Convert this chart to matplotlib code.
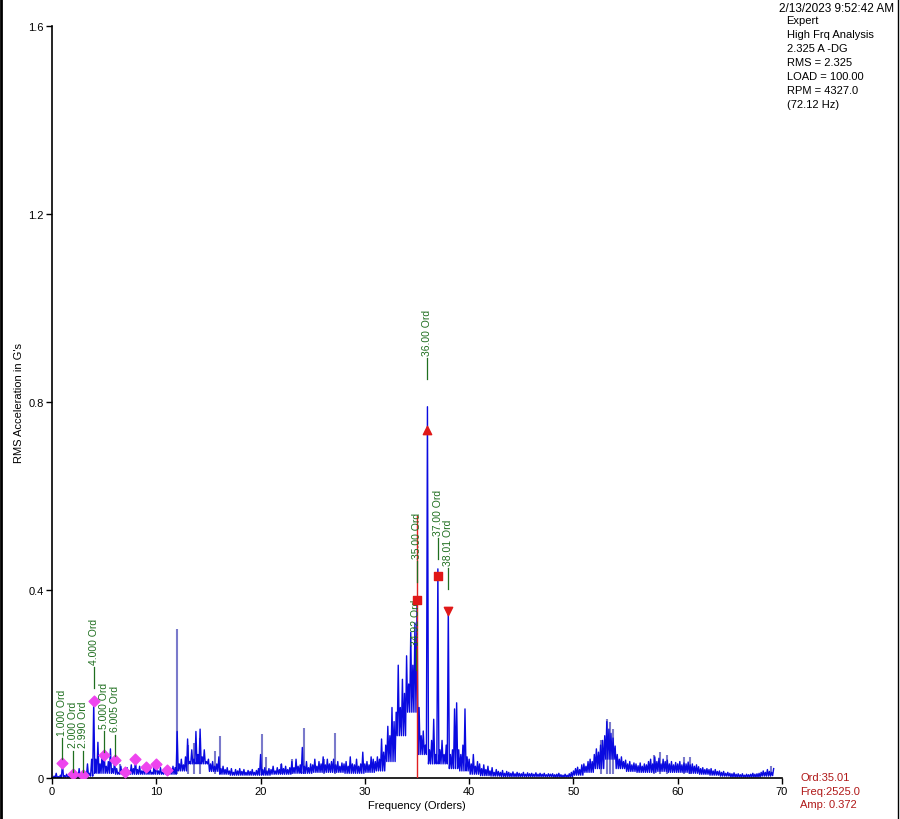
import numpy as np
import matplotlib.pyplot as plt
from matplotlib.lines import Line2D

plt.rcParams['font.family'] = ['Liberation Sans', 'DejaVu Sans']

# spectrum peak amplitudes (G's rms), one row per order, bins every 0.2 order
ORDER_STEP = 0.2
AMPS = [
  0.000, 0.004, 0.010, 0.003, 0.006,
  0.031, 0.005, 0.008, 0.003, 0.006,
  0.011, 0.004, 0.006, 0.020, 0.008,
  0.008, 0.012, 0.030, 0.010, 0.040,
  0.164, 0.040, 0.076, 0.030, 0.050,
  0.055, 0.025, 0.035, 0.062, 0.020,
  0.038, 0.020, 0.012, 0.025, 0.015,
  0.013, 0.022, 0.015, 0.028, 0.020,
  0.040, 0.018, 0.025, 0.015, 0.020,
  0.024, 0.014, 0.020, 0.012, 0.028,
  0.030, 0.015, 0.022, 0.012, 0.018,
  0.018, 0.020, 0.015, 0.025, 0.022,
  0.099, 0.030, 0.040, 0.028, 0.045,
  0.083, 0.035, 0.060, 0.040, 0.099,
  0.050, 0.104, 0.045, 0.060, 0.035,
  0.040, 0.030, 0.035, 0.025, 0.030,
  0.045, 0.020, 0.025, 0.018, 0.022,
  0.015, 0.020, 0.012, 0.018, 0.015,
  0.020, 0.014, 0.018, 0.012, 0.016,
  0.014, 0.018, 0.012, 0.016, 0.020,
  0.050, 0.018, 0.022, 0.015, 0.020,
  0.018, 0.025, 0.015, 0.022, 0.018,
  0.030, 0.020, 0.025, 0.018, 0.022,
  0.035, 0.022, 0.040, 0.025, 0.028,
  0.065, 0.025, 0.035, 0.022, 0.030,
  0.028, 0.040, 0.025, 0.035, 0.030,
  0.045, 0.028, 0.040, 0.030, 0.035,
  0.040, 0.028, 0.035, 0.025, 0.032,
  0.030, 0.035, 0.025, 0.045, 0.030,
  0.028, 0.040, 0.025, 0.030, 0.055,
  0.030, 0.035, 0.028, 0.045, 0.040,
  0.035, 0.045, 0.040, 0.083, 0.055,
  0.070, 0.110, 0.090, 0.150, 0.120,
  0.140, 0.240, 0.150, 0.210, 0.180,
  0.260, 0.200, 0.310, 0.240, 0.330,
  0.372, 0.150, 0.090, 0.100, 0.070,
  0.790, 0.060, 0.080, 0.125, 0.050,
  0.445, 0.060, 0.080, 0.050, 0.070,
  0.360, 0.050, 0.060, 0.147, 0.160,
  0.060, 0.050, 0.070, 0.147, 0.045,
  0.040, 0.030, 0.050, 0.025, 0.035,
  0.030, 0.020, 0.028, 0.018, 0.025,
  0.015, 0.022, 0.012, 0.018, 0.014,
  0.012, 0.016, 0.010, 0.014, 0.012,
  0.010, 0.013, 0.009, 0.012, 0.010,
  0.009, 0.012, 0.008, 0.011, 0.009,
  0.010, 0.008, 0.011, 0.008, 0.010,
  0.008, 0.010, 0.007, 0.009, 0.008,
  0.009, 0.007, 0.008, 0.010, 0.007,
  0.006, 0.008, 0.006, 0.009, 0.012,
  0.015, 0.020, 0.023, 0.018, 0.028,
  0.030, 0.025, 0.035, 0.040, 0.035,
  0.050, 0.062, 0.055, 0.070, 0.080,
  0.090, 0.120, 0.104, 0.095, 0.085,
  0.068, 0.050, 0.040, 0.045, 0.035,
  0.038, 0.030, 0.035, 0.028, 0.032,
  0.030, 0.026, 0.032, 0.025, 0.030,
  0.028, 0.035, 0.040, 0.030, 0.045,
  0.035, 0.042, 0.030, 0.040, 0.035,
  0.038, 0.030, 0.035, 0.028, 0.033,
  0.030, 0.035, 0.028, 0.032, 0.030,
  0.034, 0.028, 0.030, 0.025, 0.028,
  0.024, 0.020, 0.022, 0.018, 0.020,
  0.018, 0.020, 0.015, 0.018, 0.014,
  0.015, 0.012, 0.014, 0.010, 0.012,
  0.010, 0.009, 0.011, 0.008, 0.009,
  0.007, 0.009, 0.006, 0.008, 0.007,
  0.008, 0.010, 0.008, 0.009, 0.010,
  0.012, 0.015, 0.012, 0.018, 0.014,
  0.012, 0.020,
]

# lower edge of the noise band, one value per order (0..69)
FLOOR = [
  0.000, 0.002, 0.002, 0.004, 0.010, 0.010, 0.008, 0.008, 0.008, 0.008,
  0.008, 0.008, 0.015, 0.030, 0.030, 0.014, 0.008, 0.006, 0.006, 0.006,
  0.006, 0.008, 0.008, 0.010, 0.010, 0.012, 0.012, 0.012, 0.010, 0.010,
  0.012, 0.015, 0.035, 0.090, 0.140, 0.050, 0.030, 0.030, 0.020, 0.015,
  0.008, 0.005, 0.004, 0.003, 0.003, 0.003, 0.003, 0.003, 0.002, 0.002,
  0.006, 0.012, 0.020, 0.040, 0.020, 0.014, 0.012, 0.012, 0.014, 0.012,
  0.012, 0.010, 0.008, 0.006, 0.004, 0.002, 0.002, 0.002, 0.004, 0.005,
]

# reference (baseline) spectrum spikes, drawn lighter behind
REF_ORDERS = [6.5, 9.8, 12.0, 13.0, 13.6, 14.2, 15.6, 16.1, 20.1, 20.5, 22.0,
              23.0, 24.2, 26.1, 27.1, 52.6, 53.2, 53.5, 53.8, 57.7, 58.3,
              59.0, 60.6, 61.2, 68.9]
REF_AMPS = [0.030, 0.035, 0.317, 0.070, 0.075, 0.085, 0.058, 0.089, 0.094,
            0.045, 0.030, 0.040, 0.106, 0.040, 0.096, 0.080, 0.126, 0.120,
            0.104, 0.050, 0.055, 0.048, 0.045, 0.045, 0.025]

# running-speed harmonics (magenta diamonds)
HARM_ORDERS = [1, 2, 3, 4, 5, 6, 7, 8, 9, 10, 11]
HARM_AMPS = [0.031, 0.009, 0.006, 0.164, 0.049, 0.038, 0.013, 0.040, 0.024,
             0.030, 0.018]

# red fault markers
FAULT_ORDERS = [35.0, 36.0, 37.0, 38.01]
FAULT_AMPS = [0.378, 0.740, 0.430, 0.355]
FAULT_MARKERS = ['s', '^', 's', 'v']

# peak labels
LABEL_TEXT = ['1.000 Ord', '2.000 Ord', '2.990 Ord', '4.000 Ord', '5.000 Ord',
              '6.005 Ord', '34.92 Ord', '35.00 Ord', '36.00 Ord', '37.00 Ord',
              '38.01 Ord']
LABEL_ORDERS = [1.0, 2.0, 2.99, 4.0, 5.0, 6.005, 34.92, 35.0, 36.0, 37.0, 38.01]
LABEL_LEVELS = [0.040, 0.013, 0.013, 0.191, 0.055, 0.047, 0.230, 0.416, 0.849,
                0.466, 0.402]

CURSOR_ORDER = 35.01
CURSOR_TOP = 0.557

INFO_LINES = ['Expert', 'High Frq Analysis', '2.325 A -DG', 'RMS = 2.325',
              'LOAD = 100.00', 'RPM = 4327.0', '(72.12 Hz)']
CURSOR_LINES = ['Ord:35.01', 'Freq:2525.0', 'Amp: 0.372']

# interleave each peak bin with the band floor of its order
xs, ys = [], []
for i, a in enumerate(AMPS):
  o = i * ORDER_STEP
  xs += [o, o + ORDER_STEP / 2]
  ys += [a, FLOOR[min(int(o), len(FLOOR) - 1)]]
xs, ys = xs[:-1], ys[:-1]

fig = plt.figure(figsize=(9, 8.2), dpi=100)
ax = fig.add_axes([0.0578, 0.05, 0.8111, 0.917])

ax.vlines(REF_ORDERS, 0.008, REF_AMPS, color='#7a7acb', lw=1.5, zorder=1)
ax.plot(xs, ys, color='#0a0ae0', lw=1.0, zorder=2)

ax.plot([CURSOR_ORDER, CURSOR_ORDER], [0, CURSOR_TOP], color='#e02020', lw=1.0, zorder=3)

ax.scatter(HARM_ORDERS, HARM_AMPS, marker='D', s=30, color='#ee44ee', zorder=4)
for o, a, m in zip(FAULT_ORDERS, FAULT_AMPS, FAULT_MARKERS):
  ax.scatter([o], [a], marker=m, s=36, color='#e01818', zorder=5)

green = '#1f6f1f'
for txt, o, lv in zip(LABEL_TEXT, LABEL_ORDERS, LABEL_LEVELS):
  ax.plot([o, o], [lv, lv + 0.045], color=green, lw=0.9, zorder=4)
  ax.text(o, lv + 0.052, txt, rotation=90, ha='center', va='bottom',
          fontsize=7.5, color=green, zorder=4)

ax.set_xlim(0, 70)
ax.set_ylim(0, 1.6)
ax.set_xticks([0, 10, 20, 30, 40, 50, 60, 70])
ax.set_yticks([0, 0.4, 0.8, 1.2, 1.6])
ax.set_yticklabels(['0', '0.4', '0.8', '1.2', '1.6'])
ax.tick_params(direction='out', length=4, width=1, labelsize=8, pad=2)
for s in ['top', 'right']:
  ax.spines[s].set_visible(False)
for s in ['left', 'bottom']:
  ax.spines[s].set_linewidth(1.2)

ax.set_xlabel('Frequency (Orders)', fontsize=8, labelpad=3)
ax.set_ylabel("RMS Acceleration in G's", fontsize=8, labelpad=3)

fig.text(0.994, 0.996, '2/13/2023 9:52:42 AM', ha='right', va='top', fontsize=8.5)
for i, line in enumerate(INFO_LINES):
  fig.text(0.874, 0.981 - i * 0.0172, line, ha='left', va='top', fontsize=8)
for i, line in enumerate(CURSOR_LINES):
  fig.text(0.889, 0.057 - i * 0.0162, line, ha='left', va='top', fontsize=8,
           color='#b01818')

# window frame at the sides
fig.add_artist(Line2D([0.0015, 0.0015], [0, 1], color='black', lw=2))
fig.add_artist(Line2D([0.998, 0.998], [0, 1], color='black', lw=1))

fig.savefig('out.png', dpi=100, facecolor='white')
